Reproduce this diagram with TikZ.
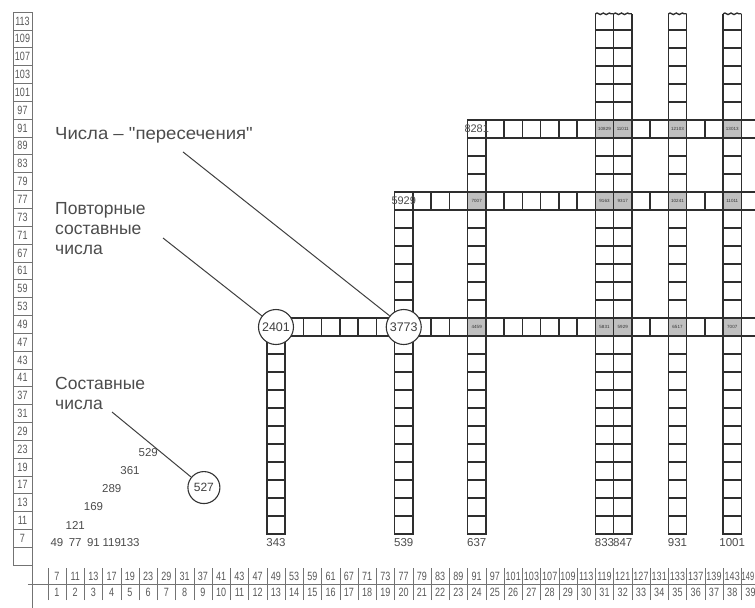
\documentclass[tikz,border=0pt]{standalone}
\usepackage{fontspec}
\setmainfont{Liberation Sans}
\usetikzlibrary{decorations.pathmorphing}

\newcommand\nrw[1]{\scalebox{0.75}[1]{#1}}

\begin{document}
\begin{tikzpicture}[x=18.25pt, y=18pt,
    ladder/.style={draw=black!82, line width=1.35pt},
    frame/.style={draw=black!55, line width=0.6pt},
    hitcell/.style={fill=black!25},
    hitlbl/.style={font=\fontsize{4.5}{5}\selectfont, text=black!80, inner sep=0pt},
    tablbl/.style={font=\fontsize{12}{12}\selectfont, text=black!65, inner sep=0pt},
    numlbl/.style={font=\fontsize{11.5}{12}\selectfont, text=black!70, inner sep=0pt},
    ring/.style={circle, draw=black!80, line width=1.1pt, fill=white, minimum size=35pt,
      inner sep=0pt, font=\fontsize{12.5}{13}\selectfont, text=black!75},
    note/.style={font=\fontsize{17.5}{20}\selectfont, text=black!70, align=left, inner sep=0pt},
    pointer/.style={draw=black!75, line width=1pt}
  ]
  \useasboundingbox (-2.123,-2.556) rectangle (39.247,31.167);
  \fill[white] (-2.123,-2.556) rectangle (39.247,31.167);
  \def\lx{-1.41}
  \def\rx{-0.37}
  \def\lh{0.9913}
  % left column
  \draw[frame] (\lx,-0.22) rectangle (\rx,30.5);
  \foreach \j in {1,...,30}
    \draw[frame] (\lx,30.5-\j*\lh) -- (\rx,30.5-\j*\lh);
  \foreach \v [count=\i] in {7,11,13,17,19,23,29,31,37,41,43,47,49,53,59,
      61,67,71,73,77,79,83,89,91,97,101,103,107,109,113}
    \node[tablbl] (L\i) at (-0.89,30.5-30.5*\lh+\i*\lh) {\nrw{\v}};
  % axes and table
  \draw[frame] (\rx,30.5) -- (\rx,-2.6);
  \draw[frame] (-0.6,-1.278) -- (39.3,-1.278);
  \foreach \v [count=\k] in {7,11,13,17,19,23,29,31,37,41,43,47,49,53,59,
      61,67,71,73,77,79,83,89,91,97,101,103,107,109,113,119,121,127,131,
      133,137,139,143,149} {
    \draw[frame] (\k-0.5,-2.17) -- (\k-0.5,-0.39);
    \node[tablbl] (T\k) at ({\k-(\k==39)*0.14},-0.834)
      {\ifnum\k=39 \scalebox{0.62}[1]{\v}\else\nrw{\v}\fi};
    \node[tablbl] (N\k) at (\k,-1.722) {\nrw{\k}};
  }
  % crossings
  \foreach \k/\r/\p in {24/13/4459, 31/13/5831, 32/13/5929, 35/13/6517, 38/13/7007,
      24/20/7007, 31/20/9163, 32/20/9317, 35/20/10241, 38/20/11011,
      31/24/10829, 32/24/11011, 35/24/12103, 38/24/13013} {
    \fill[hitcell] (\k-0.5,\r-0.5) rectangle (\k+0.5,\r+0.5);
    \node[hitlbl] (h\k-\r) at (\k,\r) {\p};
  }
  % vertical ladders
  \foreach \k/\t/\n in {13/12.5/11, 20/20.5/19, 24/24.5/23} {
    \draw[ladder] (\k-0.5,1.5) rectangle (\k+0.5,\t);
    \foreach \r in {2,...,\n}
      \draw[ladder] (\k-0.5,\r+0.5) -- ++(1,0);
  }
  \foreach \k in {31,32,35,38} {
    \draw[ladder] (\k-0.5,30.4) -- (\k-0.5,1.5) -- (\k+0.5,1.5) -- (\k+0.5,30.4);
    \draw[ladder, decorate, decoration={snake, amplitude=0.8pt, segment length=6pt}]
      (\k-0.5,30.4) -- (\k+0.5,30.4);
    \foreach \r in {2,...,29}
      \draw[ladder] (\k-0.5,\r+0.5) -- ++(1,0);
  }
  % horizontal ladders
  \foreach \r in {13,20,24} {
    \draw[ladder] (\r-0.5,\r-0.5) -- (39.6,\r-0.5) (\r-0.5,\r+0.5) -- (39.6,\r+0.5);
    \foreach \c in {\r,...,39}
      \draw[ladder] (\c+0.5,\r-0.5) -- ++(0,1);
  }
  \node[numlbl, font=\fontsize{11}{12}\selectfont] (q5929) at (20,20) {5929};
  \node[numlbl, font=\fontsize{11}{12}\selectfont] (q8281) at (24,24) {8281};
  % products
  \foreach \v/\k/\r in {49/1/1, 77/2/1, 91/3/1, 119/4/1, 133/5/1,
      121/2/2, 169/3/3, 289/4/4, 361/5/5, 529/6/6,
      343/13/1, 539/20/1, 637/24/1, 833/31/1, 847/32/1, 931/35/1, 1001/38/1}
    \node[numlbl] (m\v) at (\k,\r) {\v};
  \node[ring] (c2401) at (13,13) {2401};
  \node[ring] (c3773) at (20,13) {3773};
  \node[ring, minimum size=32pt, font=\fontsize{12}{13}\selectfont] (c527) at (9.05,4.08) {527};
  % notes
  \node[note, anchor=west] (lblcross) at (0.891,23.67)
    {\scalebox{1.06}[1]{Числа -- \textquotedbl пересечения\textquotedbl}};
  \node[note, anchor=north west] (lblrep) at (0.891,19.944) {Повторные\\составные\\числа};
  \node[note, anchor=north west] (lblcomp) at (0.891,10.222) {Составные\\числа};
  \draw[pointer] ([xshift=128pt,yshift=-17pt]lblcross.west) -- (c3773);
  \draw[pointer] ([xshift=108pt,yshift=-36pt]lblrep.north west) -- (c2401);
  \draw[pointer] ([xshift=57pt,yshift=-35pt]lblcomp.north west) -- (c527);
\end{tikzpicture}
\end{document}
